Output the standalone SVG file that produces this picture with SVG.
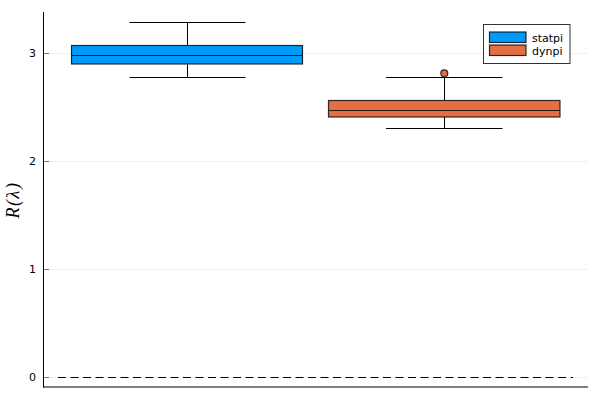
<svg xmlns="http://www.w3.org/2000/svg" width="600" height="400" viewBox="0 0 600 400">
<style>
.grid{stroke:#000;stroke-opacity:0.06;stroke-width:1}
.tick{stroke:#000;stroke-opacity:0.5;stroke-width:1}
.axis{stroke:#000;stroke-width:1}
.tl{font-family:"DejaVu Sans",sans-serif;font-size:11px;fill:#000;text-anchor:end}
.box{stroke:#000;stroke-opacity:0.8;stroke-width:1.2}
.wh{stroke:#000;stroke-width:1;fill:none}
.leg{font-family:"DejaVu Sans",sans-serif;font-size:11px;fill:#000}
</style>
<rect width="600" height="400" fill="#fff"/>
<g id="grid">
<line class="grid" x1="43" y1="53.5" x2="588" y2="53.5"/>
<line class="grid" x1="43" y1="161.5" x2="588" y2="161.5"/>
<line class="grid" x1="43" y1="269.5" x2="588" y2="269.5"/>
<line class="grid" x1="43" y1="377.5" x2="588" y2="377.5"/>
</g>
<g id="axes">
<line class="axis" x1="43.5" y1="12" x2="43.5" y2="387.5"/>
<line class="axis" x1="43" y1="387" x2="588" y2="387"/>
<line class="tick" x1="43" y1="53.5" x2="49" y2="53.5"/>
<line class="tick" x1="43" y1="161.5" x2="49" y2="161.5"/>
<line class="tick" x1="43" y1="269.5" x2="49" y2="269.5"/>
<line class="tick" x1="43" y1="377.5" x2="49" y2="377.5"/>
<text class="tl" x="36" y="57">3</text>
<text class="tl" x="36" y="165">2</text>
<text class="tl" x="36" y="273">1</text>
<text class="tl" x="36" y="381">0</text>
<text transform="translate(19,200) rotate(-90)" text-anchor="middle" font-family="'Liberation Serif',serif" font-style="italic" font-size="18" letter-spacing="1.5">R(λ)</text>
</g>
<g id="statpi">
<line class="wh" x1="187.5" y1="22.5" x2="187.5" y2="45"/>
<line class="wh" x1="187.5" y1="64" x2="187.5" y2="77.5"/>
<line class="wh" x1="129.5" y1="22.5" x2="245.5" y2="22.5"/>
<line class="wh" x1="129.5" y1="77.5" x2="245.5" y2="77.5"/>
<rect class="box" x="71.5" y="45.5" width="231" height="18.5" fill="#009AFA"/>
<line class="box" x1="71.5" y1="55.5" x2="302.5" y2="55.5"/>
</g>
<g id="dynpi">
<line class="wh" x1="444.5" y1="77.5" x2="444.5" y2="100"/>
<line class="wh" x1="444.5" y1="117" x2="444.5" y2="128.5"/>
<line class="wh" x1="386" y1="77.5" x2="502.5" y2="77.5"/>
<line class="wh" x1="386" y1="128.5" x2="502.5" y2="128.5"/>
<rect class="box" x="328.5" y="100.5" width="231.5" height="16.5" fill="#E36F47"/>
<line class="box" x1="328.5" y1="110.5" x2="560" y2="110.5"/>
<circle class="box" cx="444.3" cy="73.3" r="3.5" fill="#E36F47"/>
</g>
<g id="connectors">
<line x1="58" y1="377.5" x2="573" y2="377.5" stroke="#000" stroke-width="1" stroke-dasharray="8 4.5"/>
</g>
<g id="legend">
<rect x="483.5" y="24.5" width="86.5" height="39" fill="#fff" stroke="#000" stroke-opacity="0.8"/>
<rect class="box" x="489.5" y="32" width="36.5" height="10.5" fill="#009AFA"/>
<rect class="box" x="489.5" y="45" width="36.5" height="10.5" fill="#E36F47"/>
<text class="leg" x="532" y="41.5">statpi</text>
<text class="leg" x="532" y="54.5">dynpi</text>
</g>
</svg>
